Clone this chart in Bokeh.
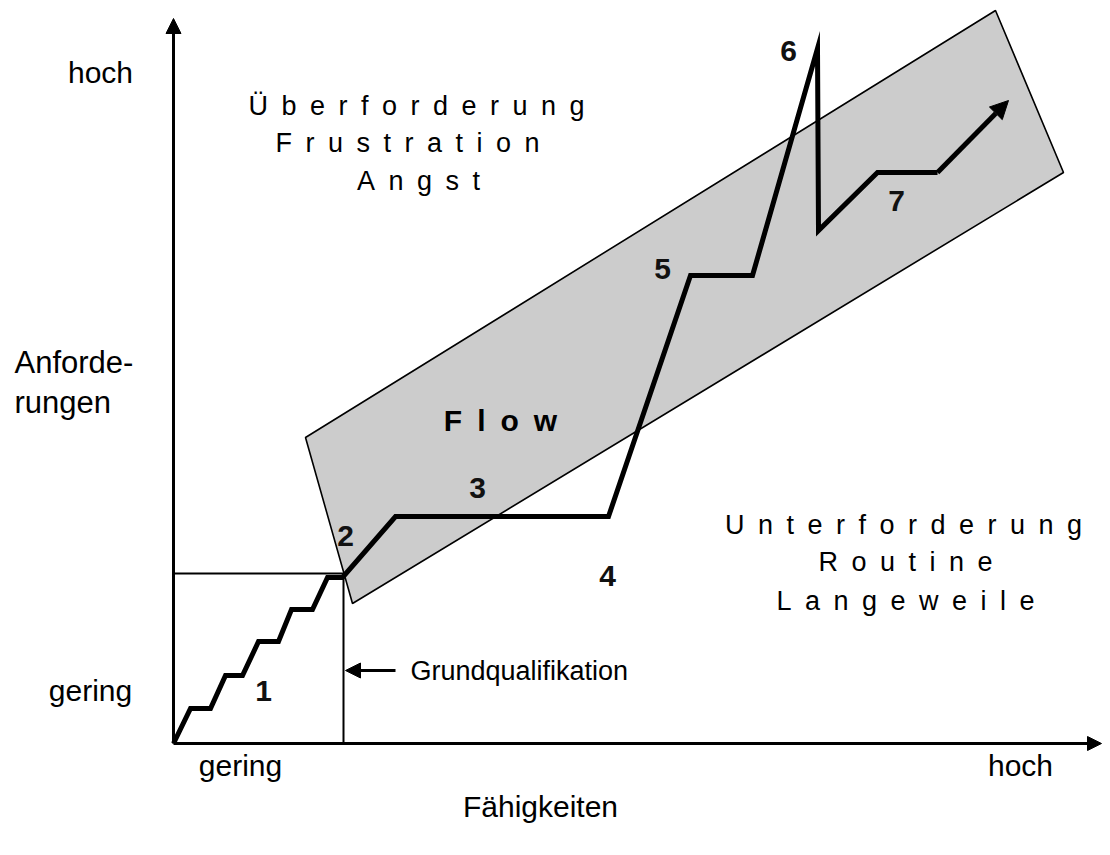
from bokeh.plotting import figure
from bokeh.models import Range1d, Arrow, NormalHead
from bokeh.core.properties import value
from bokeh.embed import file_html
from bokeh.resources import INLINE

# ---- data (diagram coordinates, y grows downward) ----
origin = (173, 743)
y_axis_top = 18
x_axis_end = 1101

basic_x = [173, 343, 343]          # Grundqualifikation box
basic_y = [573, 573, 743]

band_x = [305, 995, 1063, 352]     # Flow channel
band_y = [437, 10, 172, 603]

path_x = [173, 190, 210, 225, 242, 258, 278, 291, 312, 327, 342, 395, 608, 690, 752, 817, 818, 877, 937, 1008]
path_y = [743, 708, 708, 675, 675, 641, 641, 609, 609, 577, 577, 516, 516, 275, 275, 48, 230, 172, 172, 100]

step_labels = ["1", "2", "3", "4", "5", "6", "7"]
step_x = [263, 345, 477, 607, 662, 788, 896]
step_y = [690, 535, 487, 575, 268, 50, 200]

axis_texts = ["hoch", "gering", "gering", "hoch", "Fähigkeiten"]
axis_tx = [100, 90, 240, 1020, 540]
axis_ty = [72, 690, 765, 765, 806]

ylabel_lines = ["Anforde-", "rungen"]
ylabel_x = [14, 14]
ylabel_y = [362, 402]

over_lines = ["Überforderung", "Frustration", "Angst"]
over_x = [416, 407, 418]
over_y = [105, 142, 180]

under_lines = ["Unterforderung", "Routine", "Langeweile"]
under_x = [903, 905, 905]
under_y = [524, 561, 600]

flow_text = ["Flow"]
flow_x = [500]
flow_y = [420]

grund_text = ["Grundqualifikation"]
grund_x = [410]
grund_y = [670]
grund_arrow = (395, 345)

FONT = value("Liberation Sans")
SP = "\u2002"


def spaced(s):
    return SP.join(s)


p = figure(width=1102, height=847, output_backend="svg", toolbar_location=None,
           x_range=Range1d(0, 1102), y_range=Range1d(847, 0),
           min_border=0, background_fill_color="white", border_fill_color="white")
p.axis.visible = False
p.grid.visible = False
p.outline_line_color = None

# flow band
p.patch(band_x, band_y, fill_color="#cccccc", line_color="black", line_width=1.6)

# Grundqualifikation box
p.line(basic_x, basic_y, line_color="black", line_width=2)

# axes with arrows
p.add_layout(Arrow(x_start=origin[0], y_start=origin[1], x_end=origin[0], y_end=y_axis_top,
                   line_width=3, line_color="black",
                   end=NormalHead(size=15, fill_color="black", line_color="black")))
p.add_layout(Arrow(x_start=origin[0], y_start=origin[1], x_end=x_axis_end, y_end=origin[1],
                   line_width=3, line_color="black",
                   end=NormalHead(size=14, fill_color="black", line_color="black")))

# development path
p.line(path_x[:-1], path_y[:-1], line_color="black", line_width=5, line_join="miter")
p.add_layout(Arrow(x_start=path_x[-2], y_start=path_y[-2], x_end=path_x[-1], y_end=path_y[-1],
                   line_width=5, line_color="black",
                   end=NormalHead(size=18, fill_color="black", line_color="black")))

# Grundqualifikation arrow
p.add_layout(Arrow(x_start=grund_arrow[0], y_start=grund_y[0], x_end=grund_arrow[1], y_end=grund_y[0],
                   line_width=3, line_color="black",
                   end=NormalHead(size=15, fill_color="black", line_color="black")))

# texts
p.text(step_x, step_y, text=step_labels, text_font=FONT, text_font_size="30px",
       text_font_style="bold", text_color="#111111", text_align="center", text_baseline="middle")
p.text(axis_tx, axis_ty, text=axis_texts, text_font=FONT, text_font_size="30px",
       text_color="black", text_align="center", text_baseline="middle")
p.text(ylabel_x, ylabel_y, text=ylabel_lines, text_font=FONT, text_font_size="31px",
       text_color="black", text_align="left", text_baseline="middle")
p.text(over_x, over_y, text=[spaced(s) for s in over_lines], text_font=FONT, text_font_size="27px",
       text_color="black", text_align="center", text_baseline="middle")
p.text(under_x, under_y, text=[spaced(s) for s in under_lines], text_font=FONT, text_font_size="27px",
       text_color="black", text_align="center", text_baseline="middle")
p.text(flow_x, flow_y, text=[spaced(s) for s in flow_text], text_font=FONT, text_font_size="30px",
       text_font_style="bold", text_color="black", text_align="center", text_baseline="middle")
p.text(grund_x, grund_y, text=grund_text, text_font=FONT, text_font_size="27px",
       text_color="black", text_align="left", text_baseline="middle")

open("out.html", "w").write(file_html(p, INLINE))
